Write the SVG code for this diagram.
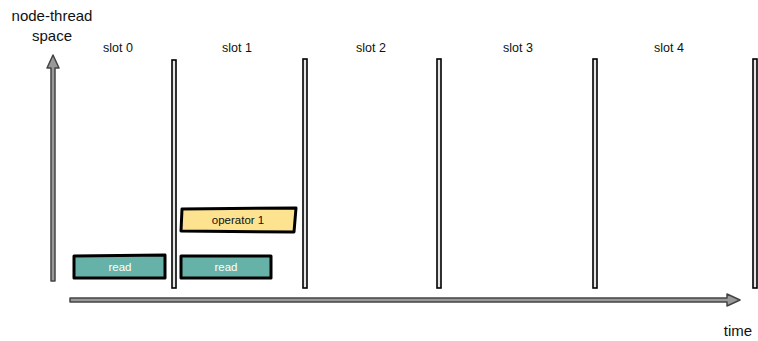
<svg xmlns="http://www.w3.org/2000/svg" width="758" height="341" viewBox="0 0 758 341">
<style>
.lbl{font-family:"Liberation Sans",Arial,sans-serif;font-size:15px;fill:#111;text-anchor:middle}
.slot{font-family:"Liberation Sans",Arial,sans-serif;font-size:12.5px;fill:#111;text-anchor:middle}
.sep{fill:#e6e6e6;stroke:#000;stroke-width:1.6}
.box{stroke:#000;stroke-width:3;stroke-linejoin:round}
.read{fill:#67b2a8}
.op{fill:#fde28f}
.bt{font-family:"Liberation Sans",Arial,sans-serif;font-size:11.5px;text-anchor:middle}
.ax{fill:#999;stroke:#444;stroke-width:1.5;stroke-linejoin:round}
</style>
<rect width="758" height="341" fill="#fff"/>
<g id="labels">
<text class="lbl" x="52" y="21">node-thread</text>
<text class="lbl" x="52" y="41">space</text>
<text class="lbl" x="738" y="336">time</text>
<text class="slot" x="118" y="52">slot 0</text>
<text class="slot" x="237" y="52">slot 1</text>
<text class="slot" x="371" y="52">slot 2</text>
<text class="slot" x="518" y="52">slot 3</text>
<text class="slot" x="669" y="52">slot 4</text>
</g>
<g id="connectors">
<path class="ax" d="M51,281 L51,68 L47,68 L53,55 L59,68 L55,68 L55,281 Z"/>
<path class="ax" d="M70,298 L727,298 L727,294 L740,300 L727,306 L727,302 L70,302 Z"/>
</g>
<g id="separators">
<rect class="sep" x="172" y="60" width="4" height="228"/>
<rect class="sep" x="303" y="59" width="4" height="229"/>
<rect class="sep" x="437" y="59" width="4" height="229"/>
<rect class="sep" x="593" y="59" width="4" height="229"/>
<rect class="sep" x="753" y="59" width="4" height="229"/>
</g>
<g id="read0">
<path class="box read" d="M74,256 L165,255 L165,278 L74,278 Z"/>
<text class="bt" x="120" y="271" fill="#fff">read</text>
</g>
<g id="read1">
<path class="box read" d="M181,256 L271,256 L271,278 L181,278 Z"/>
<text class="bt" x="226" y="271" fill="#fff">read</text>
</g>
<g id="operator1">
<path class="box op" d="M182,209 L296,208 L294,232 L181,231 Z"/>
<text class="bt" x="238" y="224" fill="#111">operator 1</text>
</g>
</svg>
